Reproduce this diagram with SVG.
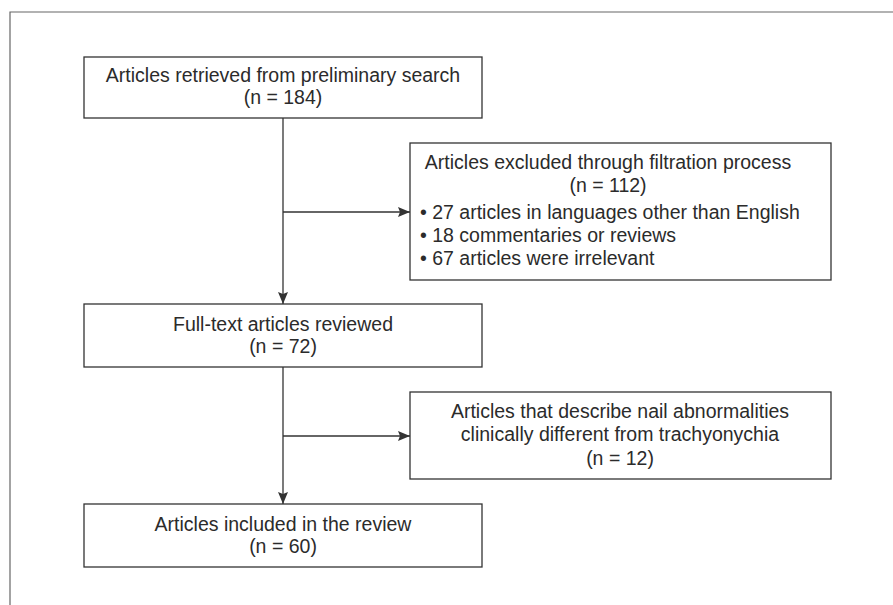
<svg xmlns="http://www.w3.org/2000/svg" width="893" height="605" viewBox="0 0 893 605">
<style>
.box{fill:#fff;stroke:#333;stroke-width:1.3}
.t{font-family:"Liberation Sans",Arial,sans-serif;font-size:19.5px;fill:#2b2b2b}
.c{text-anchor:middle}
.edge{stroke:#333;stroke-width:1.3;fill:none}
.frame{stroke:#666;stroke-width:1.2;fill:none}
</style>
<defs>
<marker id="ah" viewBox="0 0 12 10" refX="12" refY="5" markerWidth="12" markerHeight="10" markerUnits="userSpaceOnUse" orient="auto">
<path d="M0,0 L12,5 L0,10 L2,5 Z" fill="#333"/>
</marker>
</defs>
<path class="frame" d="M10,605 V12 H893"/>
<g id="connectors">
<path class="edge" d="M283,118 V304" marker-end="url(#ah)"/>
<path class="edge" d="M283,212 H410" marker-end="url(#ah)"/>
<path class="edge" d="M283,367 V504" marker-end="url(#ah)"/>
<path class="edge" d="M283,436 H410" marker-end="url(#ah)"/>
</g>
<g id="n1">
<rect class="box" x="84" y="57" width="398" height="61"/>
<text class="t c"><tspan x="283" y="82">Articles retrieved from preliminary search</tspan><tspan x="283" y="104">(n = 184)</tspan></text>
</g>
<g id="n2">
<rect class="box" x="410" y="143" width="421" height="137"/>
<text class="t"><tspan class="c" x="608" y="169">Articles excluded through filtration process</tspan><tspan class="c" x="608" y="192">(n = 112)</tspan><tspan x="420" y="219">• 27 articles in languages other than English</tspan><tspan x="420" y="242">• 18 commentaries or reviews</tspan><tspan x="420" y="265">• 67 articles were irrelevant</tspan></text>
</g>
<g id="n3">
<rect class="box" x="84" y="304" width="398" height="63"/>
<text class="t c"><tspan x="283" y="331">Full-text articles reviewed</tspan><tspan x="283" y="353">(n = 72)</tspan></text>
</g>
<g id="n4">
<rect class="box" x="410" y="392" width="421" height="87"/>
<text class="t c"><tspan x="620" y="418">Articles that describe nail abnormalities</tspan><tspan x="620" y="441">clinically different from trachyonychia</tspan><tspan x="620" y="465">(n = 12)</tspan></text>
</g>
<g id="n5">
<rect class="box" x="84" y="504" width="398" height="63"/>
<text class="t c"><tspan x="283" y="531">Articles included in the review</tspan><tspan x="283" y="553">(n = 60)</tspan></text>
</g>
</svg>
